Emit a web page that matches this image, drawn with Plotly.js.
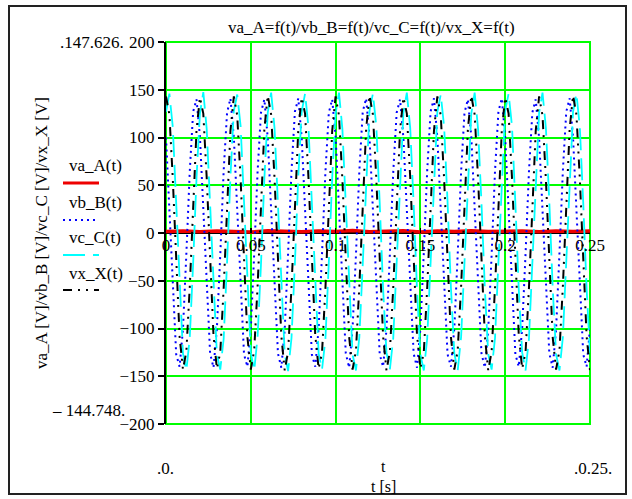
<!DOCTYPE html>
<html>
<head>
<meta charset="utf-8">
<script src="https://cdn.plot.ly/plotly-3.0.1.min.js"></script>
<style>
  html, body { margin: 0; padding: 0; background: #ffffff; }
  #chart { width: 632px; height: 499px; }
</style>
</head>
<body>
<div id="chart"></div>
<script>
// ---- data ----
const T0 = 0;          // start time [s]
const DT = 0.002;      // sampling step of vb, vc, vx [s]
const DT_A = 0.01;     // sampling step of va [s]

const vaA = [1.5, 2.0, 1.2, 2.2, 1.6, 1.0, 2.4, 1.8, 1.3, 2.1, 1.7, 2.5, 1.4,
             1.9, 2.3, 1.1, 2.0, 1.6, 2.4, 1.5, 1.8, 2.2, 1.3, 2.0, 1.7, 2.1];

const vbB = [
  100,22,-65,-127,-140,-101,-22,64,127,140,
  101,23,-64,-126,-141,-100,-23,65,126,141,
  100,21,-65,-127,-140,-100,-22,64,126,140,
  99,22,-64,-126,-141,-101,-21,65,127,141,
  100,23,-65,-127,-140,-100,-22,64,126,140,
  101,22,-64,-126,-141,-100,-23,65,127,141,
  100,21,-65,-127,-140,-101,-22,64,126,140,
  99,22,-64,-126,-141,-100,-21,65,127,141,
  100,23,-65,-127,-140,-100,-22,64,126,140,
  101,22,-64,-126,-141,-101,-23,65,127,141,
  100,21,-65,-127,-140,-100,-22,64,126,140,
  99,22,-64,-126,-141,-101,-21,65,127,141,
  100,23,-65,-127,-140,-100
];

const vcC = [
  127,146,111,33,-58,-126,-144,-110,-32,58,
  125,147.6,109,31,-59,-127,-143,-111,-31,59,
  128,145,112,33,-57,-125,-144,-109,-33,57,
  126,147,110,32,-58,-127,-144.7,-110,-32,59,
  127,146,111,31,-59,-126,-143,-111,-31,58,
  125,147,109,33,-57,-127,-144,-109,-33,57,
  128,146,112,32,-58,-125,-143,-110,-32,59,
  126,147,110,31,-59,-127,-144,-111,-31,58,
  127,145,111,33,-57,-126,-144,-109,-33,57,
  125,147,109,32,-58,-127,-143,-110,-32,59,
  128,146,112,31,-59,-125,-144,-111,-31,58,
  126,147,110,33,-57,-127,-144,-109,-33,57,
  127,146,111,32,-58,-126
];

const vxX = [
  143,124,57,-31,-108,-143,-124,-57,31,108,
  142,125,58,-32,-107,-142,-125,-58,32,107,
  143,123,56,-31,-109,-143,-123,-56,31,109,
  144,124,57,-30,-108,-144,-124,-57,30,108,
  142,125,58,-32,-107,-142,-125,-58,32,107,
  143,123,56,-31,-109,-143,-123,-56,31,109,
  144,124,57,-30,-108,-144,-124,-57,30,108,
  142,125,58,-32,-107,-142,-125,-58,32,107,
  143,123,56,-31,-109,-143,-123,-56,31,109,
  144,124,57,-30,-108,-144,-124,-57,30,108,
  142,125,58,-32,-107,-142,-125,-58,32,107,
  143,123,56,-31,-109,-143,-123,-56,31,109,
  144,124,57,-30,-108,-144
];

const seriesNames = ['va_A(t)', 'vb_B(t)', 'vc_C(t)', 'vx_X(t)'];
const xRange = [0, 0.25];
const yRange = [-200, 200];
const xTickStep = 0.05;
const yTickStep = 50;
const yMaxLabel = '147.626';
const yMinLabel = '\u2013 144.748';
const xMinLabel = '0';
const xMaxLabel = '0.25';
const titleText = 'va_A=f(t)/vb_B=f(t)/vc_C=f(t)/vx_X=f(t)';
const xTitle1 = 't';
const xTitle2 = 't [s]';
const yTitleText = 'va_A [V]/vb_B [V]/vc_C [V]/vx_X [V]';

// ---- layout helpers (pixel -> paper) ----
const W = 632, H = 499;
const L = 166, R = 42, T = 42, B = 75;
const PW = W - L - R, PH = H - T - B;
const PX = x => (x - L) / PW;
const PY = y => (H - B - y) / PH;

const FONT = 'Liberation Serif, Times New Roman, serif';
const FS = 17;
const GREEN = '#00ff00';

const styles = [
  {color: '#ee0000', width: 3.5, dash: 'solid'},
  {color: '#0000ff', width: 2, dash: '2px,4px'},
  {color: '#00ffff', width: 1.8, dash: '22px,8px'},
  {color: '#000000', width: 2, dash: '9px,6px,2px,6px,2px,6px'}
];

const traces = [
  {x0: T0, dx: DT_A, y: vaA},
  {x0: T0, dx: DT, y: vbB},
  {x0: T0, dx: DT, y: vcC},
  {x0: T0, dx: DT, y: vxX}
].map((d, i) => Object.assign({
  type: 'scatter', mode: 'lines', name: seriesNames[i],
  line: {color: styles[i].color, width: styles[i].width, dash: styles[i].dash},
  hoverinfo: 'skip'
}, d));

function ann(text, x, y, opts) {
  return Object.assign({
    text: text, xref: 'paper', yref: 'paper', x: PX(x), y: PY(y),
    xanchor: 'center', yanchor: 'middle', showarrow: false,
    font: {family: FONT, size: FS, color: '#000'}
  }, opts || {});
}

const annotations = [
  ann(titleText, 371, 28),
  ann('.' + yMaxLabel + '.', 126, 43, {xanchor: 'right'}),
  ann(yMinLabel + '.', 127, 410, {xanchor: 'right'}),
  ann('.' + xMinLabel + '.', 165, 468),
  ann('.' + xMaxLabel + '.', 593, 468),
  ann(xTitle1, 383, 467, {font: {family: FONT, size: 16, color: '#000'}}),
  ann(xTitle2, 383, 486, {font: {family: FONT, size: 16, color: '#000'}}),
  ann(yTitleText, 41, 233, {textangle: -90}),
  ann(seriesNames[0], 67, 165, {xanchor: 'left'}),
  ann(seriesNames[1], 67, 202, {xanchor: 'left'}),
  ann(seriesNames[2], 67, 237, {xanchor: 'left'}),
  ann(seriesNames[3], 67, 273, {xanchor: 'left'})
];

const legendY = [183, 220, 255, 290];
const shapes = [
  // outer frame
  {type: 'rect', xref: 'paper', yref: 'paper', x0: PX(9), x1: PX(626), y0: PY(494), y1: PY(6),
   line: {color: '#222', width: 2}, fillcolor: 'rgba(0,0,0,0)'},
  // green plot border
  {type: 'rect', xref: 'paper', yref: 'paper', x0: 0, x1: 1, y0: 0, y1: 1,
   line: {color: GREEN, width: 2}, fillcolor: 'rgba(0,0,0,0)', layer: 'below'}
].concat(legendY.map((y, i) => ({
  type: 'line', xref: 'paper', yref: 'paper', x0: PX(63), x1: PX(99), y0: PY(y), y1: PY(y),
  line: {color: styles[i].color, width: i === 0 ? 3 : 2, dash: styles[i].dash}
})));

const layout = {
  width: W, height: H,
  margin: {l: L, r: R, t: T, b: B, pad: 0},
  paper_bgcolor: '#ffffff', plot_bgcolor: '#ffffff',
  showlegend: false,
  font: {family: FONT, size: FS, color: '#000'},
  xaxis: {
    range: xRange, tick0: 0, dtick: xTickStep, autorange: false,
    showgrid: true, gridcolor: GREEN, gridwidth: 2,
    zeroline: false, showline: false,
    anchor: 'free', position: 0.5,
    ticks: 'inside', ticklen: 5, tickwidth: 1.5, tickcolor: '#000',
    tickfont: {family: FONT, size: FS, color: '#000'},
    automargin: false, fixedrange: true
  },
  yaxis: {
    range: yRange, tick0: 0, dtick: yTickStep, autorange: false,
    showgrid: true, gridcolor: GREEN, gridwidth: 2,
    zeroline: true, zerolinecolor: '#000', zerolinewidth: 2,
    showline: true, linecolor: '#000', linewidth: 2,
    ticks: 'outside', ticklen: 6, tickwidth: 2, tickcolor: '#000',
    tickfont: {family: FONT, size: FS, color: '#000'},
    automargin: false, fixedrange: true
  },
  annotations: annotations,
  shapes: shapes
};

Plotly.newPlot('chart', traces, layout, {staticPlot: true, displayModeBar: false});
</script>
</body>
</html>
